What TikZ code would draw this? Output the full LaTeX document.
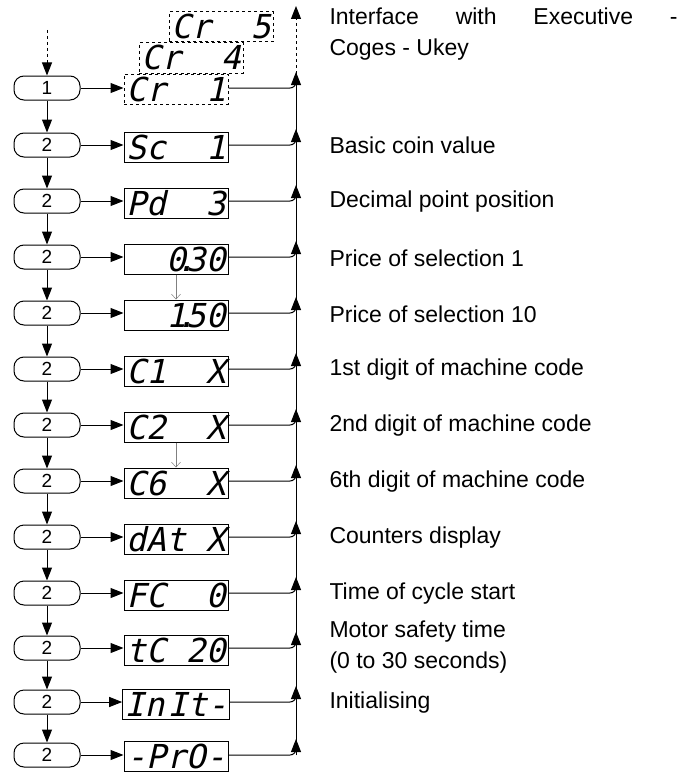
\documentclass[tikz,border=0pt]{standalone}
\usepackage{fontspec}
\setmainfont{Liberation Sans}
\newfontfamily\segfont{DejaVu Sans Mono}[FakeSlant=0.22]
\usetikzlibrary{arrows.meta, positioning, calc}

\begin{document}
\begin{tikzpicture}[x=1pt, y=-1pt,
    pill/.style={draw, line width=1pt, rounded corners=10pt, minimum width=66pt, minimum height=24pt, inner sep=0pt, font=\fontsize{19}{19}\selectfont},
    disp/.style={draw, line width=1pt, fill=white, minimum width=104pt, inner xsep=2pt, inner ysep=3pt, text height=24pt, text depth=0pt, font=\segfont\fontsize{33}{33}\selectfont},
    dispd/.style={disp, dashed},
    lab/.style={anchor=west, align=left, font=\fontsize{23}{31}\selectfont},
    freccia/.style={line width=1pt, -{Triangle[length=13pt,width=10pt]}},
    frecciat/.style={gray, line width=0.5pt, -{Straight Barb[length=5pt,width=9pt]}}]
    \useasboundingbox (0,0) rectangle (693,776);
    \coordinate (bus) at (296,0);
    \coordinate (busend) at (296,6);
    %pulsanti
    \node[pill] (p0) at (47,88) {1};
    \node[pill] (p1) at (47,145) {2};
    \node[pill] (p2) at (47,201) {2};
    \node[pill] (p3) at (47,257) {2};
    \node[pill] (p4) at (47,313) {2};
    \node[pill] (p5) at (47,369) {2};
    \node[pill] (p6) at (47,425) {2};
    \node[pill] (p7) at (47,481) {2};
    \node[pill] (p8) at (47,537) {2};
    \node[pill] (p9) at (47,593) {2};
    \node[pill] (p10) at (47,648) {2};
    \node[pill] (p11) at (47,702) {2};
    \node[pill] (p12) at (47,755) {2};
    %display
    \node[dispd] (cr5) at (221,27) {Cr~~5};
    \node[dispd] (cr4) at (191,58) {Cr~~4};
    \node[dispd] (b0) at (176,89) {Cr~~1};
    \node[disp] (b1) at (176,147) {Sc~~1};
    \node[disp] (b2) at (176,203) {Pd~~3};
    \node[disp] (b3) at (176,259) {~~0\kern-.3em.\kern-.3em30};
    \node[disp] (b4) at (176,315) {~~1\kern-.3em.\kern-.3em50};
    \node[disp] (b5) at (176,371) {C1~~X};
    \node[disp] (b6) at (176,427) {C2~~X};
    \node[disp] (b7) at (176,483) {C6~~X};
    \node[disp] (b8) at (176,539) {dAt~X};
    \node[disp] (b9) at (176,595) {FC~~0};
    \node[disp] (b10) at (176,650) {tC~20};
    \node[disp] (b11) at (176,704) {In\kern.1emIt-};
    \node[disp] (b12) at (176,756) {-PrO-};
    %descrizioni
    \node[lab] (l0) at (326,34) {\makebox[348pt][s]{Interface with Executive -}\\Coges - Ukey};
    \node[lab] (l1) at (326,145) {Basic coin value};
    \node[lab] (l2) at (326,202) {Decimal point position};
    \node[lab] (l3) at (326,258) {Price of selection 1};
    \node[lab] (l4) at (326,314) {Price of selection 10};
    \node[lab] (l5) at (326,370) {1st digit of machine code};
    \node[lab] (l6) at (326,426) {2nd digit of machine code};
    \node[lab] (l7) at (326,482) {6th digit of machine code};
    \node[lab] (l8) at (326,538) {Counters display};
    \node[lab] (l9) at (326,594) {Time of cycle start};
    \node[lab] (l10) at (326,647) {Motor safety time\\(0 to 30 seconds)};
    \node[lab] (l11) at (326,703) {Initialising};
    %frecce verso il basso
    \draw[freccia, dashed] (47,30) -- (p0);
    \draw[freccia] (p0) -- (p1);
    \draw[freccia] (p1) -- (p2);
    \draw[freccia] (p2) -- (p3);
    \draw[freccia] (p3) -- (p4);
    \draw[freccia] (p4) -- (p5);
    \draw[freccia] (p5) -- (p6);
    \draw[freccia] (p6) -- (p7);
    \draw[freccia] (p7) -- (p8);
    \draw[freccia] (p8) -- (p9);
    \draw[freccia] (p9) -- (p10);
    \draw[freccia] (p10) -- (p11);
    \draw[freccia] (p11) -- (p12);
    \draw[frecciat] (b3) -- (b4);
    \draw[frecciat] (b6) -- (b7);
    %frecce verso i display
    \draw[freccia] (p0) -- (p0 -| b0.west);
    \draw[freccia] (p1) -- (p1 -| b1.west);
    \draw[freccia] (p2) -- (p2 -| b2.west);
    \draw[freccia] (p3) -- (p3 -| b3.west);
    \draw[freccia] (p4) -- (p4 -| b4.west);
    \draw[freccia] (p5) -- (p5 -| b5.west);
    \draw[freccia] (p6) -- (p6 -| b6.west);
    \draw[freccia] (p7) -- (p7 -| b7.west);
    \draw[freccia] (p8) -- (p8 -| b8.west);
    \draw[freccia] (p9) -- (p9 -| b9.west);
    \draw[freccia] (p10) -- (p10 -| b10.west);
    \draw[freccia] (p11) -- (p11 -| b11.west);
    \draw[freccia] (p12) -- (p12 -| b12.west);
    %linea di ritorno
    \draw[line width=1pt] (p12 -| bus) -- (p0 -| bus);
    \draw[freccia, dashed] ($(p0 -| bus)+(0,-14)$) -- (busend);
    \draw[line width=1pt, rounded corners=6pt] (b0.east |- p0) -- (p0 -| bus) -- ++(0,-10);
    \draw[line width=1pt, rounded corners=6pt] (b1.east |- p1) -- (p1 -| bus) -- ++(0,-10);
    \draw[line width=1pt, rounded corners=6pt] (b2.east |- p2) -- (p2 -| bus) -- ++(0,-10);
    \draw[line width=1pt, rounded corners=6pt] (b3.east |- p3) -- (p3 -| bus) -- ++(0,-10);
    \draw[line width=1pt, rounded corners=6pt] (b4.east |- p4) -- (p4 -| bus) -- ++(0,-10);
    \draw[line width=1pt, rounded corners=6pt] (b5.east |- p5) -- (p5 -| bus) -- ++(0,-10);
    \draw[line width=1pt, rounded corners=6pt] (b6.east |- p6) -- (p6 -| bus) -- ++(0,-10);
    \draw[line width=1pt, rounded corners=6pt] (b7.east |- p7) -- (p7 -| bus) -- ++(0,-10);
    \draw[line width=1pt, rounded corners=6pt] (b8.east |- p8) -- (p8 -| bus) -- ++(0,-10);
    \draw[line width=1pt, rounded corners=6pt] (b9.east |- p9) -- (p9 -| bus) -- ++(0,-10);
    \draw[line width=1pt, rounded corners=6pt] (b10.east |- p10) -- (p10 -| bus) -- ++(0,-10);
    \draw[line width=1pt, rounded corners=6pt] (b11.east |- p11) -- (p11 -| bus) -- ++(0,-10);
    \draw[line width=1pt, rounded corners=6pt] (b12.east |- p12) -- (p12 -| bus) -- ++(0,-10);
    \draw[freccia] (p0 -| bus) -- ++(0,-16);
    \draw[freccia] (p1 -| bus) -- ++(0,-16);
    \draw[freccia] (p2 -| bus) -- ++(0,-16);
    \draw[freccia] (p3 -| bus) -- ++(0,-16);
    \draw[freccia] (p4 -| bus) -- ++(0,-16);
    \draw[freccia] (p5 -| bus) -- ++(0,-16);
    \draw[freccia] (p6 -| bus) -- ++(0,-16);
    \draw[freccia] (p7 -| bus) -- ++(0,-16);
    \draw[freccia] (p8 -| bus) -- ++(0,-16);
    \draw[freccia] (p9 -| bus) -- ++(0,-16);
    \draw[freccia] (p10 -| bus) -- ++(0,-16);
    \draw[freccia] (p11 -| bus) -- ++(0,-16);
    \draw[freccia] (p12 -| bus) -- ++(0,-16);
\end{tikzpicture}
\end{document}
